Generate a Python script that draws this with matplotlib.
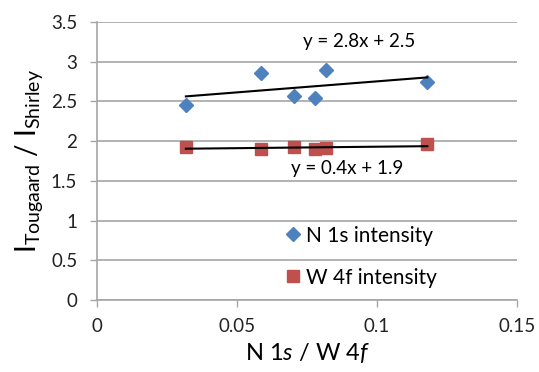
import matplotlib
matplotlib.use("Agg")
from matplotlib import pyplot as plt
import numpy as np

plt.rcParams['font.family'] = ['Lato', 'DejaVu Sans']
plt.rcParams['mathtext.fontset'] = 'custom'
plt.rcParams['mathtext.rm'] = 'Lato'
plt.rcParams['mathtext.it'] = 'Lato:italic'

# N 1s / W 4f ratio for each sample
ratio = [0.0318, 0.0585, 0.0703, 0.0779, 0.0818, 0.1179]
n1s = [2.46, 2.855, 2.565, 2.54, 2.897, 2.75]
w4f = [1.93, 1.90, 1.92, 1.90, 1.91, 1.96]

xticks = [0, 0.05, 0.1, 0.15]
xticklabels = ['0', '0.05', '0.1', '0.15']
yticks = [0, 0.5, 1, 1.5, 2, 2.5, 3, 3.5]
yticklabels = ['0', '0.5', '1', '1.5', '2', '2.5', '3', '3.5']

blue = '#4F81BD'
red = '#C0504D'
gray = '#A6A6A6'

fig = plt.figure(figsize=(5.39, 3.72), dpi=100)
ax = fig.add_axes([0.1794, 0.1935, 0.7804, 0.7474])

ax.plot(ratio, n1s, 'D', color=blue, ms=7, label='N 1s intensity', zorder=3)
ax.plot(ratio, w4f, 's', color=red, ms=8, label='W 4f intensity', zorder=3)

# linear trendlines
x = np.array(ratio)
xs = np.array([x.min(), x.max()])
k1, b1 = np.polyfit(x, n1s, 1)
k2, b2 = np.polyfit(x, w4f, 1)
ax.plot(xs, k1 * xs + b1, color='black', lw=1.5, zorder=4)
ax.plot(xs, k2 * xs + b2, color='black', lw=1.5, zorder=4)
ax.text(0.0936, 3.25, 'y = %.1fx + %.1f' % (k1, b1), fontsize=13.5, ha='center', va='center')
ax.text(0.0894, 1.66, 'y = %.1fx + %.1f' % (k2, b2), fontsize=13.5, ha='center', va='center')

ax.set_xlim(0, 0.15)
ax.set_ylim(0, 3.5)
ax.set_xticks(xticks)
ax.set_xticklabels(xticklabels)
ax.set_yticks(yticks)
ax.set_yticklabels(yticklabels)
ax.tick_params(axis='both', direction='out', length=5, width=1, color=gray,
               labelsize=13.5, labelcolor='#222222')
ax.tick_params(axis='y', pad=9)
ax.tick_params(axis='x', pad=8)
ax.yaxis.grid(True, color=gray, lw=1.2)
ax.set_axisbelow(True)
for s in ['top', 'right']:
    ax.spines[s].set_visible(False)
for s in ['left', 'bottom']:
    ax.spines[s].set_color(gray)
    ax.spines[s].set_linewidth(1.2)

ax.set_xlabel(r'N 1$\it{s}$ / W 4$\it{f}$', fontsize=17, labelpad=4)
ax.set_ylabel(r'I$_{\mathrm{Tougaard}}$ / I$_{\mathrm{Shirley}}$', fontsize=20, labelpad=4)

ax.legend(loc='center left', bbox_to_anchor=(0.447, 0.156), frameon=False, fontsize=15,
          handlelength=0.8, handletextpad=0.2, labelspacing=1.05, borderpad=0,
          borderaxespad=0)

fig.savefig('out.png', dpi=100)
